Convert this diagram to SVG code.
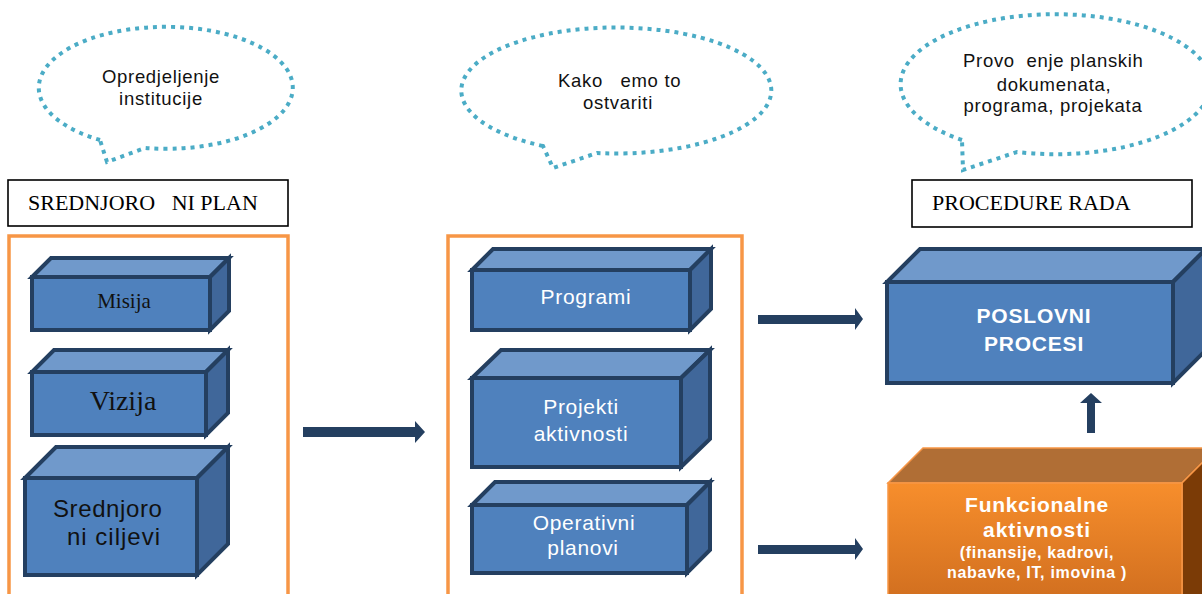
<svg xmlns="http://www.w3.org/2000/svg" width="1202" height="594" viewBox="0 0 1202 594">
  <defs>
    <style>
      .bubble { fill: none; stroke: #4bacc6; stroke-width: 4; stroke-dasharray: 4 5; }
      .btxt { font-family: "Liberation Sans", Arial, sans-serif; font-size: 18.5px; fill: #111; letter-spacing: 0.7px; text-anchor: middle; }
      .label { fill: #fff; stroke: #000; stroke-width: 1.6; }
      .ltxt { font-family: "Liberation Serif", "Times New Roman", serif; font-size: 22px; fill: #000; }
      .frame { fill: none; stroke: #f79646; stroke-width: 3.5; }
      .front { fill: #4f81bd; stroke: #243f60; stroke-width: 4; stroke-linejoin: miter; }
      .top { fill: #7099cb; stroke: #243f60; stroke-width: 4; stroke-linejoin: miter; }
      .side { fill: #40679a; stroke: #243f60; stroke-width: 4; stroke-linejoin: miter; }
      .ofront { fill: url(#orangeGrad); stroke: #f79646; stroke-width: 1.5; }
      .otop { fill: #b06e35; stroke: #f79646; stroke-width: 1.5; }
      .oside { fill: #7b3b06; stroke: #f79646; stroke-width: 1.5; }
      .serif { font-family: "Liberation Serif", "Times New Roman", serif; fill: #111; text-anchor: middle; }
      .sans { font-family: "Liberation Sans", Arial, sans-serif; }
      .wtxt { font-family: "Liberation Sans", Arial, sans-serif; font-size: 21px; fill: #fff; letter-spacing: 0.7px; text-anchor: middle; }
      .wbold { font-family: "Liberation Sans", Arial, sans-serif; font-weight: bold; fill: #fff; text-anchor: middle; }
      .arrow { fill: #243f60; }
    </style>
    <linearGradient id="orangeGrad" x1="0" y1="0" x2="0" y2="1">
      <stop offset="0" stop-color="#f78e2c"/>
      <stop offset="1" stop-color="#d06e1f"/>
    </linearGradient>
  </defs>

  <rect width="1202" height="594" fill="#fff"/>

  <!-- speech bubbles -->
  <g id="bubble-opredjeljenje">
    <path class="bubble" d="M100,140 A127,61 0 1 1 145,148 L107,162 Z"/>
    <text class="btxt" x="161" y="83">Opredjeljenje</text>
    <text class="btxt" x="161" y="105">institucije</text>
  </g>

  <g id="bubble-kako">
    <path class="bubble" d="M543,146 A155,63 0 1 1 597,153 L553,168 Z"/>
    <text class="btxt" x="558" y="87" style="text-anchor:start" xml:space="preserve">Kako   emo to</text>
    <text class="btxt" x="618" y="109">ostvariti</text>
  </g>

  <g id="bubble-provodjenje">
    <path class="bubble" d="M962,140 A155,70 0 1 1 1017,152 L963,170 Z"/>
    <text class="btxt" x="963" y="67" style="text-anchor:start" xml:space="preserve">Provo  enje planskih</text>
    <text class="btxt" x="1054" y="91">dokumenata,</text>
    <text class="btxt" x="1053" y="112">programa, projekata</text>
  </g>

  <!-- section headings -->
  <g id="label-srednjorocni">
    <rect class="label" x="8" y="180" width="280" height="46"/>
    <text class="ltxt" x="28" y="210" xml:space="preserve">SREDNJORO   NI PLAN</text>
  </g>

  <g id="label-procedure">
    <rect class="label" x="912" y="180" width="280" height="47"/>
    <text class="ltxt" x="932" y="210">PROCEDURE RADA</text>
  </g>

  <!-- containers -->
  <g id="frame-left">
    <rect class="frame" x="9" y="236" width="279" height="370"/>
  </g>
  <g id="frame-middle">
    <rect class="frame" x="448" y="236" width="294" height="370"/>
  </g>

  <!-- left column -->
  <g id="box-misija">
    <polygon class="top" points="32,277 51,258 229,258 210,277"/>
    <polygon class="side" points="210,277 229,258 229,311 210,330"/>
    <rect class="front" x="32" y="277" width="178" height="53"/>
    <text class="serif" x="124" y="308" font-size="21">Misija</text>
  </g>

  <g id="box-vizija">
    <polygon class="top" points="32,372 54,350 228,350 206,372"/>
    <polygon class="side" points="206,372 228,350 228,413 206,435"/>
    <rect class="front" x="32" y="372" width="174" height="63"/>
    <text class="serif" x="123" y="410" font-size="28">Vizija</text>
  </g>

  <g id="box-ciljevi">
    <polygon class="top" points="25,478 56,447 228,447 197,478"/>
    <polygon class="side" points="197,478 228,447 228,544 197,575"/>
    <rect class="front" x="25" y="478" width="172" height="97"/>
    <text class="sans" x="53" y="517" font-size="24" fill="#111" letter-spacing="0.6">Srednjoro</text>
    <text class="sans" x="67" y="545" font-size="24" fill="#111" letter-spacing="1">ni ciljevi</text>
  </g>

  <!-- middle column -->
  <g id="box-programi">
    <polygon class="top" points="472,270 493,249 711,249 690,270"/>
    <polygon class="side" points="690,270 711,249 711,309 690,330"/>
    <rect class="front" x="472" y="270" width="218" height="60"/>
    <text class="wtxt" x="586" y="304" letter-spacing="1">Programi</text>
  </g>

  <g id="box-projekti">
    <polygon class="top" points="472,378 501,350 710,350 681,378"/>
    <polygon class="side" points="681,378 710,350 710,439 681,467"/>
    <rect class="front" x="472" y="378" width="209" height="89"/>
    <text class="wtxt" x="581" y="414">Projekti</text>
    <text class="wtxt" x="581" y="441">aktivnosti</text>
  </g>

  <g id="box-operativni">
    <polygon class="top" points="472,505 495,482 710,482 687,505"/>
    <polygon class="side" points="687,505 710,482 710,550 687,573"/>
    <rect class="front" x="472" y="505" width="215" height="68"/>
    <text class="wtxt" x="584" y="530">Operativni</text>
    <text class="wtxt" x="583" y="555">planovi</text>
  </g>

  <!-- right column -->
  <g id="box-poslovni">
    <polygon class="top" points="887,282 920,249 1206,249 1173,282"/>
    <polygon class="side" points="1173,282 1206,249 1206,350 1173,383"/>
    <rect class="front" x="887" y="282" width="286" height="101"/>
    <text class="wbold" x="1034" y="323" font-size="21" letter-spacing="0.8">POSLOVNI</text>
    <text class="wbold" x="1034" y="351" font-size="21" letter-spacing="0.8">PROCESI</text>
  </g>

  <g id="box-funkcionalne">
    <polygon class="otop" points="888,483 923,448 1217,448 1182,483"/>
    <polygon class="oside" points="1182,483 1217,448 1217,600 1182,600"/>
    <rect class="ofront" x="888" y="483" width="294" height="120"/>
    <text class="wbold" x="1037" y="512" font-size="21" letter-spacing="0.7">Funkcionalne</text>
    <text class="wbold" x="1037" y="537" font-size="21" letter-spacing="1">aktivnosti</text>
    <text class="wbold" x="1037" y="558" font-size="16" letter-spacing="0.7">(finansije, kadrovi,</text>
    <text class="wbold" x="1037" y="578" font-size="16" letter-spacing="0.7">nabavke, IT, imovina )</text>
  </g>

  <!-- connectors -->
  <g id="connectors">
    <polygon class="arrow" points="303,427 415,427 415,421 425,432 415,443 415,437 303,437"/>
    <polygon class="arrow" points="758,315 855,315 855,308 863,319 855,330 855,324 758,324"/>
    <polygon class="arrow" points="758,545 855,545 855,538 863,549 855,560 855,554 758,554"/>
    <polygon class="arrow" points="1087,433 1087,403 1080,403 1091,393 1102,403 1095,403 1095,433"/>
  </g>
</svg>
